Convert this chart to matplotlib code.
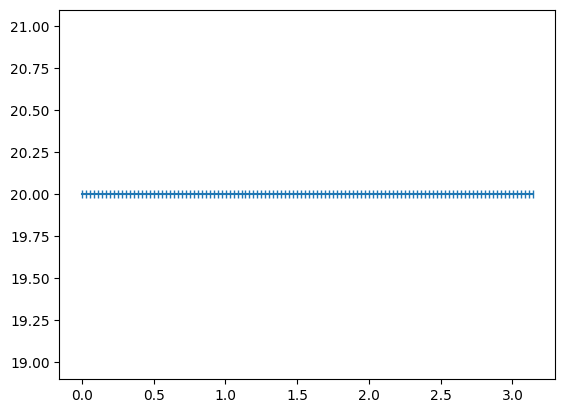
import numpy as np
import matplotlib
matplotlib.use("Agg")
import matplotlib.pyplot as plt

x = np.linspace(0, np.pi, 114)
y = np.full_like(x, 20.0)

fig, ax = plt.subplots(figsize=(6.4, 4.8), dpi=100)
ax.plot(x, y, marker='|', color='#1f77b4')
fig.savefig("out.png", dpi=100, bbox_inches='tight')
